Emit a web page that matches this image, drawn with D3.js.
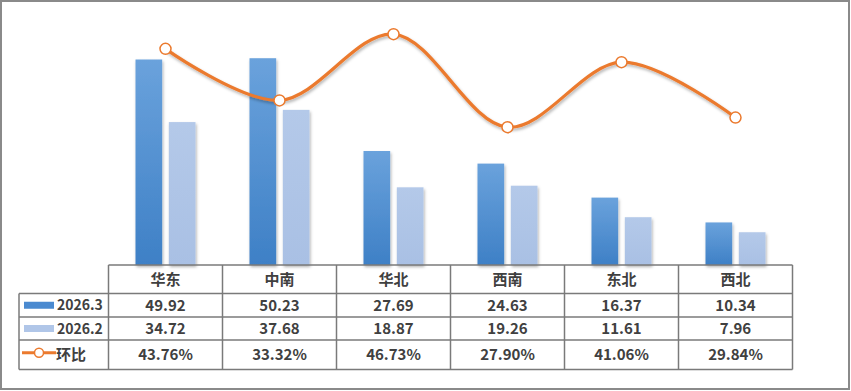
<!DOCTYPE html>
<html lang="zh">
<head>
<meta charset="UTF-8"/>
<title>区域对比</title>
<script src="https://d3js.org/d3.v7.min.js"></script>
<style>
    body { margin: 0; background: #fff; }
    text { font-family: "Noto Sans CJK SC", "Noto Sans", sans-serif; font-weight: bold; fill: #404040; }
</style>
</head>
<body>
<svg width="851" height="391"></svg>
<script>
    // data
    const regions = ["华东", "中南", "华北", "西南", "东北", "西北"];
    const seriesNames = ["2026.3", "2026.2", "环比"];
    const mar = [49.92, 50.23, 27.69, 24.63, 16.37, 10.34];
    const feb = [34.72, 37.68, 18.87, 19.26, 11.61, 7.96];
    const ratio = [43.76, 33.32, 46.73, 27.90, 41.06, 29.84];

    const svg = d3.select("svg");
    const defs = svg.append("defs");

    const g1 = defs.append("linearGradient").attr("id", "gDark")
        .attr("x1", 0).attr("y1", 0).attr("x2", 0).attr("y2", 1);
    g1.append("stop").attr("offset", "0%").attr("stop-color", "#6aa2dc");
    g1.append("stop").attr("offset", "100%").attr("stop-color", "#3e80c6");

    const g2 = defs.append("linearGradient").attr("id", "gLight")
        .attr("x1", 0).attr("y1", 0).attr("x2", 0).attr("y2", 1);
    g2.append("stop").attr("offset", "0%").attr("stop-color", "#b4c9e9");
    g2.append("stop").attr("offset", "100%").attr("stop-color", "#a9c0e4");

    const sh = defs.append("filter").attr("id", "shadow")
        .attr("x", "-20%").attr("y", "-20%").attr("width", "140%").attr("height", "140%");
    sh.append("feDropShadow").attr("dx", 1).attr("dy", 2).attr("stdDeviation", 1.5)
        .attr("flood-color", "#000").attr("flood-opacity", 0.3);

    // outer frame
    svg.append("rect").attr("x", 1).attr("y", 1).attr("width", 848).attr("height", 388)
        .attr("fill", "#fff").attr("stroke", "#8a8a8a").attr("stroke-width", 2);

    const plotTop = 18, base = 265;
    const x = d3.scaleBand().domain(regions).range([108.5, 792.5]);
    const y = d3.scaleLinear().domain([0, 60]).range([base, plotTop]);
    const y2 = d3.scaleLinear().domain([0, 50]).range([base, plotTop]);

    // bars
    const groups = regions.map((r, i) => ({ r, vals: [mar[i], feb[i]] }));
    const cat = svg.selectAll(".cat").data(groups).enter().append("g")
        .attr("class", "cat")
        .attr("transform", d => "translate(" + (x(d.r) + x.bandwidth() / 2) + ",0)");
    const x1 = d3.scaleBand().domain([0, 1]).range([-30, 30]).paddingInner(0.2);
    cat.selectAll("rect").data(d => d.vals).enter().append("rect")
        .attr("x", (d, i) => x1(i))
        .attr("width", x1.bandwidth())
        .attr("y", d => y(d))
        .attr("height", d => base - y(d))
        .attr("fill", (d, i) => i === 0 ? "url(#gDark)" : "url(#gLight)")
        .attr("filter", "url(#shadow)");

    // ratio line
    const line = d3.line()
        .x((d, i) => x(regions[i]) + x.bandwidth() / 2)
        .y(d => y2(d))
        .curve(d3.curveCatmullRom.alpha(0.5));
    svg.append("path").datum(ratio).attr("d", line)
        .attr("fill", "none").attr("stroke", "#eb7a2e").attr("stroke-width", 3.2)
        .attr("filter", "url(#shadow)");
    svg.selectAll(".dot").data(ratio).enter().append("circle")
        .attr("cx", (d, i) => x(regions[i]) + x.bandwidth() / 2)
        .attr("cy", d => y2(d))
        .attr("r", 5.5)
        .attr("fill", "#fff").attr("stroke", "#eb7a2e").attr("stroke-width", 1.5);

    // data table
    const rows = [base, 293.5, 317, 340, 369.5];
    const left = 19, legendR = 108.5, right = 792.5;
    const grid = svg.append("g").attr("stroke", "#7a7a7a").attr("stroke-width", 1.5);
    grid.append("line").attr("x1", legendR).attr("x2", right).attr("y1", rows[0]).attr("y2", rows[0]);
    rows.slice(1).forEach(r => grid.append("line").attr("x1", left).attr("x2", right).attr("y1", r).attr("y2", r));
    grid.append("line").attr("x1", left).attr("x2", left).attr("y1", rows[1]).attr("y2", rows[4]);
    x.domain().concat([null]).forEach(r => {
        const xx = r === null ? right : x(r);
        grid.append("line").attr("x1", xx).attr("x2", xx).attr("y1", rows[0]).attr("y2", rows[4]);
    });

    const cx = r => x(r) + x.bandwidth() / 2;
    const mid = k => (rows[k] + rows[k + 1]) / 2;
    svg.selectAll(".hdr").data(regions).enter().append("text")
        .attr("x", cx).attr("y", mid(0)).attr("dy", "0.36em")
        .attr("text-anchor", "middle").attr("font-size", 15).text(d => d);

    const tableRows = [mar.map(v => v.toFixed(2)), feb.map(v => v.toFixed(2)), ratio.map(v => v.toFixed(2) + "%")];
    tableRows.forEach((vals, k) => {
        svg.selectAll(".r" + k).data(vals).enter().append("text")
            .attr("x", (d, i) => cx(regions[i])).attr("y", mid(k + 1)).attr("dy", "0.36em")
            .attr("text-anchor", "middle").attr("font-size", 15).text(d => d);
    });

    // legend keys
    svg.append("rect").attr("x", 24).attr("y", mid(1) - 3.5).attr("width", 30).attr("height", 7).attr("fill", "#4a8ad0");
    svg.append("rect").attr("x", 24).attr("y", mid(2) - 3.5).attr("width", 30).attr("height", 7).attr("fill", "#b0c6e8");
    svg.append("line").attr("x1", 22).attr("x2", 56).attr("y1", mid(3) - 2).attr("y2", mid(3) - 2)
        .attr("stroke", "#eb7a2e").attr("stroke-width", 3);
    svg.append("circle").attr("cx", 39).attr("cy", mid(3) - 2).attr("r", 4.5)
        .attr("fill", "#fff").attr("stroke", "#eb7a2e").attr("stroke-width", 1.5);
    seriesNames.forEach((s, k) => {
        svg.append("text").attr("x", k < 2 ? 57 : 56).attr("y", mid(k + 1)).attr("dy", "0.36em")
            .attr("font-size", k < 2 ? 14 : 15).text(s);
    });
</script>
</body>
</html>
